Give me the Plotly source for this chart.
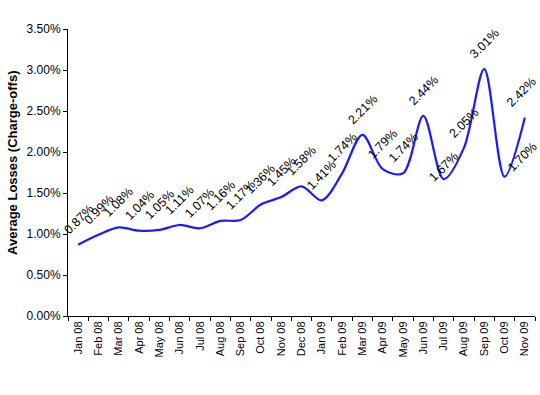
import plotly.graph_objects as go

months = ["Jan 08", "Feb 08", "Mar 08", "Apr 08", "May 08", "Jun 08", "Jul 08", "Aug 08",
          "Sep 08", "Oct 08", "Nov 08", "Dec 08", "Jan 09", "Feb 09", "Mar 09", "Apr 09",
          "May 09", "Jun 09", "Jul 09", "Aug 09", "Sep 09", "Oct 09", "Nov 09"]
losses = [0.87, 0.99, 1.08, 1.04, 1.05, 1.11, 1.07, 1.16, 1.17, 1.36, 1.45, 1.58,
          1.41, 1.74, 2.21, 1.79, 1.74, 2.44, 1.67, 2.05, 3.01, 1.70, 2.42]
y_ticks = [0, 0.5, 1.0, 1.5, 2.0, 2.5, 3.0, 3.5]

FONT = "Liberation Sans, Arial, sans-serif"
# style: nudges (px) for a few data labels that sit off their default spot
label_nudge = {"Jul 09": (0, -13), "Oct 09": (18, -6), "Nov 09": (-3, 0)}

fig = go.Figure()
fig.add_trace(go.Scatter(
    x=months, y=losses, mode="lines",
    line=dict(color="#1a1aff", width=2.2, shape="spline", smoothing=0.9),
    hoverinfo="skip", showlegend=False,
))

for m, v in zip(months, losses):
    dx, dy = label_nudge.get(m, (0, 0))
    fig.add_annotation(
        x=m, y=v, text=f"{v:.2f}%", showarrow=False, textangle=-45,
        xanchor="center", yanchor="bottom", xshift=dx, yshift=5 + dy,
        font=dict(family=FONT, size=12.5, color="black"),
    )

fig.add_annotation(
    xref="paper", yref="paper", x=-0.12, y=0.533,
    text="<b>Average Losses (Charge-offs)</b>", showarrow=False, textangle=-90,
    xanchor="center", yanchor="middle",
    font=dict(family=FONT, size=13, color="black"),
)

fig.update_layout(
    width=540, height=395,
    margin=dict(l=68, r=5, t=29, b=79),
    paper_bgcolor="white", plot_bgcolor="white",
    font=dict(family=FONT, size=11, color="black"),
    showlegend=False,
)
fig.update_xaxes(
    type="category", tickangle=-90, tickson="boundaries",
    ticks="outside", ticklen=4, tickcolor="black",
    showline=True, linecolor="black", linewidth=1,
    showgrid=False, zeroline=False, automargin=False,
    range=[-0.5, len(months) - 0.5],
    tickfont=dict(size=11),
)
fig.update_yaxes(
    range=[0, 3.5], tickvals=y_ticks, ticktext=[f"{t:.2f}%" for t in y_ticks],
    ticks="outside", ticklen=4, tickcolor="black",
    showline=True, linecolor="black", linewidth=1,
    showgrid=False, zeroline=False, automargin=False,
    tickfont=dict(size=12),
)

fig.write_html("out.html", config={"displayModeBar": False},
               post_script="document.body.style.margin='0';")
